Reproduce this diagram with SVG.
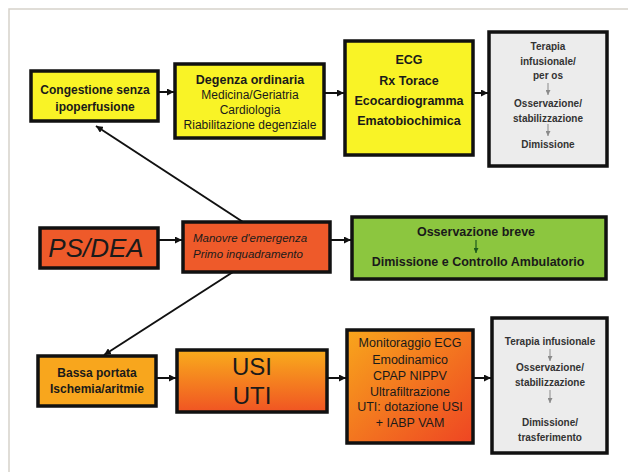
<svg xmlns="http://www.w3.org/2000/svg" width="628" height="472" viewBox="0 0 628 472">
  <defs>
    <marker id="arr" viewBox="0 0 8 8" refX="8" refY="4" markerWidth="7" markerHeight="7" markerUnits="userSpaceOnUse" orient="auto">
      <path d="M0,0 L8,4 L0,8 z" fill="#111"/>
    </marker>
    <marker id="arrThin" viewBox="0 0 8 8" refX="8" refY="4" markerWidth="5" markerHeight="5" markerUnits="userSpaceOnUse" orient="auto">
      <path d="M0,0 L8,4 L0,8 z" fill="#8a8a8a"/>
    </marker>
    <marker id="arrGreen" viewBox="0 0 8 8" refX="8" refY="4" markerWidth="5" markerHeight="5" markerUnits="userSpaceOnUse" orient="auto">
      <path d="M0,0 L8,4 L0,8 z" fill="#1d5a1d"/>
    </marker>
    <linearGradient id="gUsi" x1="0" y1="0" x2="0" y2="1">
      <stop offset="0" stop-color="#f9ac1c"/>
      <stop offset="1" stop-color="#f05423"/>
    </linearGradient>
    <linearGradient id="gMon" x1="0" y1="0" x2="1" y2="1">
      <stop offset="0" stop-color="#f8a61c"/>
      <stop offset="1" stop-color="#ee4523"/>
    </linearGradient>
  </defs>
  <style>
    .box { stroke: #111; stroke-width: 3.5; }
    .yellow { fill: #f9f326; }
    .grey { fill: #ececec; }
    .red { fill: #ee5a2a; }
    .orange { fill: #f8a61d; }
    .green { fill: #8cc63f; }
    text { font-family: "Liberation Sans", Arial, sans-serif; text-anchor: middle; fill: #1a1a1a; }
    .b { font-weight: bold; }
    .gt { fill: #333; font-weight: bold; font-size: 10px; }
    .mon { font-size: 12.5px; }
    .conn line { stroke: #111; stroke-width: 2; marker-end: url(#arr); }
    .down { stroke: #8a8a8a; stroke-width: 1; marker-end: url(#arrThin); }
  </style>

  <rect width="628" height="472" fill="#ffffff"/>
  <!-- outer frame -->
  <path d="M9,472 L9,9 L628,9" fill="none" stroke="#d6d2ca" stroke-width="1.5"/>

  <!-- connectors -->
  <g class="conn" id="connectors">
    <line x1="158" y1="92" x2="174" y2="92"/>
    <line x1="324" y1="93" x2="344" y2="93"/>
    <line x1="473" y1="93" x2="488" y2="93"/>
    <line x1="243" y1="222" x2="96" y2="126"/>
    <line x1="159" y1="240" x2="182" y2="240"/>
    <line x1="330" y1="240" x2="351" y2="240"/>
    <line x1="233" y1="272" x2="104" y2="355"/>
    <line x1="156" y1="378" x2="176" y2="378"/>
    <line x1="327" y1="378" x2="346" y2="378"/>
    <line x1="473" y1="378" x2="491" y2="378"/>
  </g>

  <g id="congestione">
    <rect class="box yellow" x="31" y="71" width="127" height="50"/>
    <text class="b" x="95" y="94" font-size="12">Congestione senza</text>
    <text class="b" x="95" y="111" font-size="12">ipoperfusione</text>
  </g>

  <g id="degenza">
    <rect class="box yellow" x="175" y="64" width="149" height="74"/>
    <text class="b" x="250" y="84" font-size="12.5">Degenza ordinaria</text>
    <text x="250" y="99" font-size="12">Medicina/Geriatria</text>
    <text x="250" y="114" font-size="12">Cardiologia</text>
    <text x="250" y="129" font-size="12">Riabilitazione degenziale</text>
  </g>

  <g id="esami">
    <rect class="box yellow" x="345" y="41" width="128" height="114"/>
    <text class="b" x="409" y="64" font-size="12.5">ECG</text>
    <text class="b" x="409" y="85" font-size="12.5">Rx Torace</text>
    <text class="b" x="409" y="105" font-size="12.5">Ecocardiogramma</text>
    <text class="b" x="409" y="125" font-size="12.5">Ematobiochimica</text>
  </g>

  <g id="terapia-sup">
    <rect class="box grey" x="489" y="32" width="118" height="134"/>
    <text class="gt" x="548" y="50">Terapia</text>
    <text class="gt" x="548" y="65">infusionale/</text>
    <text class="gt" x="548" y="79">per os</text>
    <line class="down" x1="548" y1="83" x2="548" y2="95"/>
    <text class="gt" x="548" y="107">Osservazione/</text>
    <text class="gt" x="548" y="122">stabilizzazione</text>
    <line class="down" x1="548" y1="124" x2="548" y2="136"/>
    <text class="gt" x="548" y="148">Dimissione</text>
  </g>

  <g id="ps-dea">
    <rect class="box red" x="40" y="228" width="118" height="40"/>
    <text x="96" y="257" font-size="26" font-style="italic">PS/DEA</text>
  </g>

  <g id="manovre">
    <rect class="box red" x="183" y="222" width="147" height="50"/>
    <text x="193" y="242" font-size="11.5" font-style="italic" style="text-anchor:start" fill="#3a120a">Manovre d'emergenza</text>
    <text x="193" y="258" font-size="11.5" font-style="italic" style="text-anchor:start" fill="#3a120a">Primo inquadramento</text>
  </g>

  <g id="osservazione-breve">
    <rect class="box green" x="352" y="217" width="254" height="62"/>
    <text class="b" x="476" y="236" font-size="12.5" fill="#1d5a1d">Osservazione breve</text>
    <line x1="476" y1="240" x2="476" y2="253" stroke="#1d5a1d" stroke-width="1.2" marker-end="url(#arrGreen)"/>
    <text class="b" x="478" y="266" font-size="12.5" fill="#1d5a1d">Dimissione e Controllo Ambulatorio</text>
  </g>

  <g id="bassa-portata">
    <rect class="box orange" x="38" y="356" width="118" height="50"/>
    <text class="b" x="97" y="377" font-size="12">Bassa portata</text>
    <text class="b" x="97" y="393" font-size="12">Ischemia/aritmie</text>
  </g>

  <g id="usi-uti">
    <rect class="box" fill="url(#gUsi)" x="177" y="350" width="150" height="62"/>
    <text x="252" y="375" font-size="24">USI</text>
    <text x="252" y="404" font-size="24">UTI</text>
  </g>

  <g id="monitoraggio">
    <rect class="box" fill="url(#gMon)" x="347" y="330" width="126" height="113"/>
    <text class="mon" x="410" y="347">Monitoraggio ECG</text>
    <text class="mon" x="410" y="364">Emodinamico</text>
    <text class="mon" x="410" y="380">CPAP NIPPV</text>
    <text class="mon" x="410" y="396">Ultrafiltrazione</text>
    <text class="mon" x="410" y="411">UTI: dotazione USI</text>
    <text class="mon" x="410" y="427">+ IABP VAM</text>
  </g>

  <g id="terapia-inf">
    <rect class="box grey" x="492" y="318" width="115" height="135"/>
    <text class="gt" x="550" y="345">Terapia infusionale</text>
    <line class="down" x1="550" y1="349" x2="550" y2="361"/>
    <text class="gt" x="550" y="371">Osservazione/</text>
    <text class="gt" x="550" y="386">stabilizzazione</text>
    <line class="down" x1="550" y1="390" x2="550" y2="403"/>
    <text class="gt" x="550" y="426">Dimissione/</text>
    <text class="gt" x="550" y="441">trasferimento</text>
  </g>
</svg>
